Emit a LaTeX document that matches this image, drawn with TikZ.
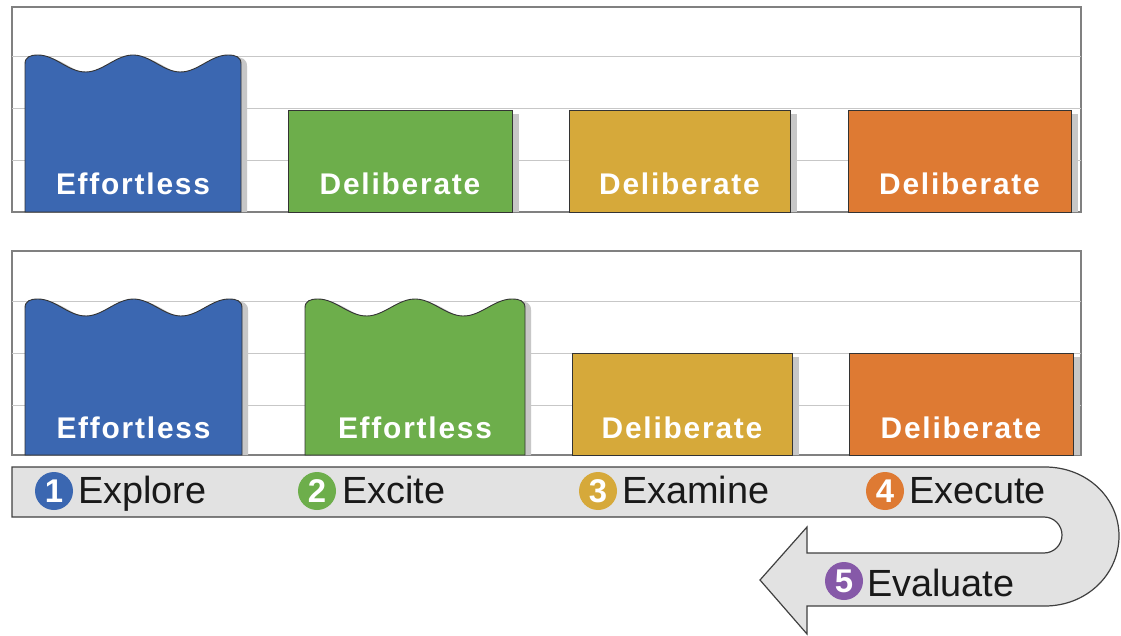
\documentclass[tikz,border=0pt]{standalone}
\usepackage{fontspec}
\setmainfont{Liberation Sans}
\definecolor{cblue}{HTML}{3B67B1}
\definecolor{cgreen}{HTML}{6DAE4B}
\definecolor{cyellow}{HTML}{D6A93A}
\definecolor{corange}{HTML}{DE7A33}
\definecolor{cpurple}{HTML}{8659A8}
\definecolor{cband}{HTML}{E2E2E2}
\tikzset{
  barline/.style={draw=black!80, line width=0.9bp},
  shadowfill/.style={fill=black!22},
  bartext/.style={text=white, font=\fontsize{30}{30}\selectfont\bfseries\addfontfeature{LetterSpace=6}, anchor=base, inner sep=0},
  steplabel/.style={text=black!90, font=\fontsize{38}{38}\selectfont, anchor=base west, inner sep=0},
  numdot/.style={circle, minimum size=38bp, inner sep=0, text=white, font=\fontsize{33}{33}\selectfont\bfseries},
  gridline/.style={draw=black!22, line width=1bp},
  frameline/.style={draw=black!50, line width=1.2bp},
}
% flat bar: x0 x1 top bottom colour
\newcommand\flatbar[5]{%
  \fill[shadowfill] (#1+6,#3+4) rectangle (#2+7,#4);
  \filldraw[barline, fill=#5] (#1,#4) rectangle (#2,#3);
}
% wavy bar: x0 x1 top bottom colour
\newcommand\wavepath[4]{(#1,#4) -- (#1,#3+9) .. controls (#1,#3+2) and (#1+5,#3) .. (#1+13,#3)
  -- plot[domain=0:1, samples=60] ({#1+13+\x*(#2-#1-26)}, {#3+8.5*(1-cos(\x*720))})
  .. controls (#2-5,#3) and (#2,#3+2) .. (#2,#3+9) -- (#2,#4) -- cycle}
\newcommand\wavybar[5]{%
  \fill[shadowfill, xshift=6bp] \wavepath{#1}{#2}{#3+2}{#4};
  \filldraw[barline, fill=#5] \wavepath{#1}{#2}{#3}{#4};
}
\begin{document}
\begin{tikzpicture}[x=1bp, y=-1bp]
\useasboundingbox (0,0) rectangle (1121,636);
% ---------- top panel ----------
\filldraw[frameline, fill=white] (12,7) rectangle (1081,212);
\foreach \gy in {57,109,161} \draw[gridline] (12,\gy) -- (1081,\gy);
\wavybar{25}{241}{55}{212}{cblue}
\flatbar{288}{512}{110}{212}{cgreen}
\flatbar{569}{790}{110}{212}{cyellow}
\flatbar{848}{1071}{110}{212}{corange}
\node[bartext] (t1) at (133,195) {Effortless};
\node[bartext] (t2) at (400,195) {Deliberate};
\node[bartext] (t3) at (679.5,195) {Deliberate};
\node[bartext] (t4) at (959.5,195) {Deliberate};
% ---------- bottom panel ----------
\filldraw[frameline, fill=white] (12,251) rectangle (1081,455);
\foreach \gy in {301,353,405} \draw[gridline] (12,\gy) -- (1081,\gy);
\wavybar{25}{242}{299}{455}{cblue}
\wavybar{305}{525}{299}{455}{cgreen}
\flatbar{572}{792}{353}{455}{cyellow}
\flatbar{849}{1073}{353}{455}{corange}
\node[bartext] (b1) at (133.5,438) {Effortless};
\node[bartext] (b2) at (415,438) {Effortless};
\node[bartext] (b3) at (682,438) {Deliberate};
\node[bartext] (b4) at (961,438) {Deliberate};
% ---------- process band ----------
\filldraw[draw=black!75, line width=1.2bp, fill=cband, line join=miter]
  (12,467) -- (1045,467)
  .. controls (1086.4,467) and (1119,497.3) .. (1119,536)
  .. controls (1119,574.7) and (1086.4,606) .. (1045,606)
  -- (807,606) -- (807,634) -- (760,580) -- (807,527) -- (807,553)
  -- (1044,553)
  .. controls (1053.9,553) and (1062,544.9) .. (1062,535)
  .. controls (1062,525.1) and (1053.9,517) .. (1044,517)
  -- (12,517) -- cycle;
\node[numdot, fill=cblue] (n1) at (54,491) {1};
\node[steplabel] (s1) at (78,503) {Explore};
\node[numdot, fill=cgreen] (n2) at (317,491) {2};
\node[steplabel] (s2) at (342,503) {Excite};
\node[numdot, fill=cyellow] (n3) at (598,491) {3};
\node[steplabel] (s3) at (622,503) {Examine};
\node[numdot, fill=corange] (n4) at (885,491) {4};
\node[steplabel] (s4) at (909,503) {Execute};
\node[numdot, fill=cpurple] (n5) at (844,581) {5};
\node[steplabel] (s5) at (867,596) {Evaluate};
\end{tikzpicture}
\end{document}
